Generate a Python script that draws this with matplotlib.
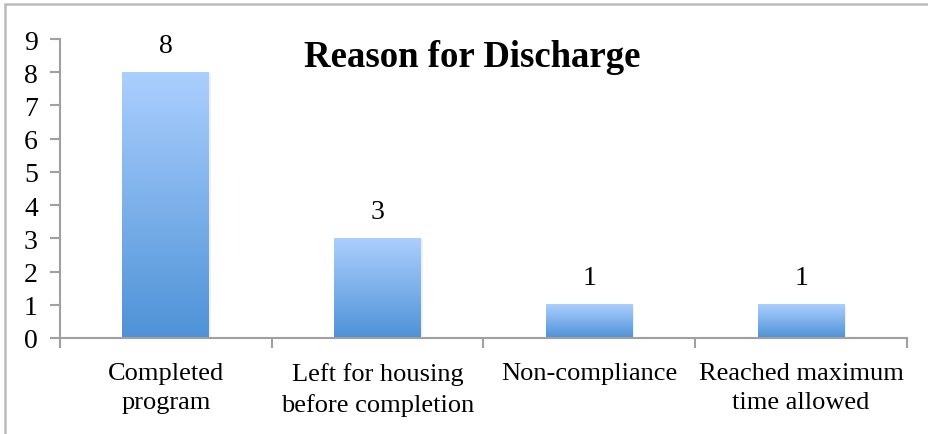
import numpy as np
import matplotlib
matplotlib.use("Agg")
import matplotlib.pyplot as plt
from matplotlib.colors import LinearSegmentedColormap
from matplotlib.patches import Rectangle

# ------- DATA ----------
categories = ["Completed\nprogram", "Left for housing\nbefore completion",
              "Non-compliance", "Reached maximum\ntime allowed"]
counts = [8, 3, 1, 1]
title = "Reason for Discharge"

plt.rcParams["font.family"] = ["Liberation Serif", "DejaVu Serif"]

W, H = 929, 435
fig = plt.figure(figsize=(W / 100, H / 100), dpi=100)
ax = fig.add_axes([60 / W, (H - 339) / H, (907 - 60) / W, (339 - 40) / H])

# ------- BARS WITH VERTICAL GRADIENT ----------
cmap = LinearSegmentedColormap.from_list("bar", ["#4E92D7", "#ABCFFE"])
grad = np.linspace(0, 1, 256).reshape(-1, 1)
x = np.arange(len(categories))
bars = ax.bar(x, counts, width=0.41, color="none", edgecolor="none", zorder=2)
for b in bars:
    x0, y0 = b.get_x(), b.get_y()
    x1, y1 = x0 + b.get_width(), y0 + b.get_height()
    # soft shadow
    ax.add_patch(Rectangle((x0 + 0.008, y0), b.get_width(), b.get_height() - 0.03,
                           facecolor="#000000", alpha=0.06, edgecolor="none", zorder=1))
    ax.imshow(grad, extent=[x0, x1, y0, y1], origin="lower", aspect="auto",
              cmap=cmap, zorder=2, interpolation="bicubic")

for xi, v in zip(x, counts):
    ax.annotate(str(v), (xi, v), xytext=(0, 19.5), textcoords="offset points",
                ha="center", va="center", fontsize=20, color="black")

ax.set_xlim(-0.5, len(categories) - 0.5)
ax.set_ylim(0, 9)
ax.set_yticks(range(10))

# ------- AXES STYLE ----------
grey = "#A0A0A0"
for s in ["top", "right"]:
    ax.spines[s].set_visible(False)
for s in ["left", "bottom"]:
    ax.spines[s].set_color(grey)
    ax.spines[s].set_linewidth(1.5)

ax.set_xticks(np.arange(-0.5, len(categories)), labels=[])
ax.set_xticks(x, minor=True)
ax.set_xticklabels(categories, minor=True, linespacing=1.45, fontsize=19)
ax.tick_params(axis="x", which="major", length=7, width=1.5, color=grey)
ax.tick_params(axis="x", which="minor", length=0, pad=17)
ax.tick_params(axis="y", length=7, width=1.5, color=grey, pad=9, labelsize=20)

fig.text(472 / W, 1 - 67 / H, title, ha="center", va="baseline",
         fontsize=26.5, fontweight="bold")

# outer chart border (right/bottom edges run off the image)
fig.patches.append(Rectangle((5 / W, -0.1), 1.2, 1.1 - 5 / H, transform=fig.transFigure,
                             facecolor="none", edgecolor="#BBBBBB", linewidth=1.8))

fig.savefig("out.png", dpi=100)
